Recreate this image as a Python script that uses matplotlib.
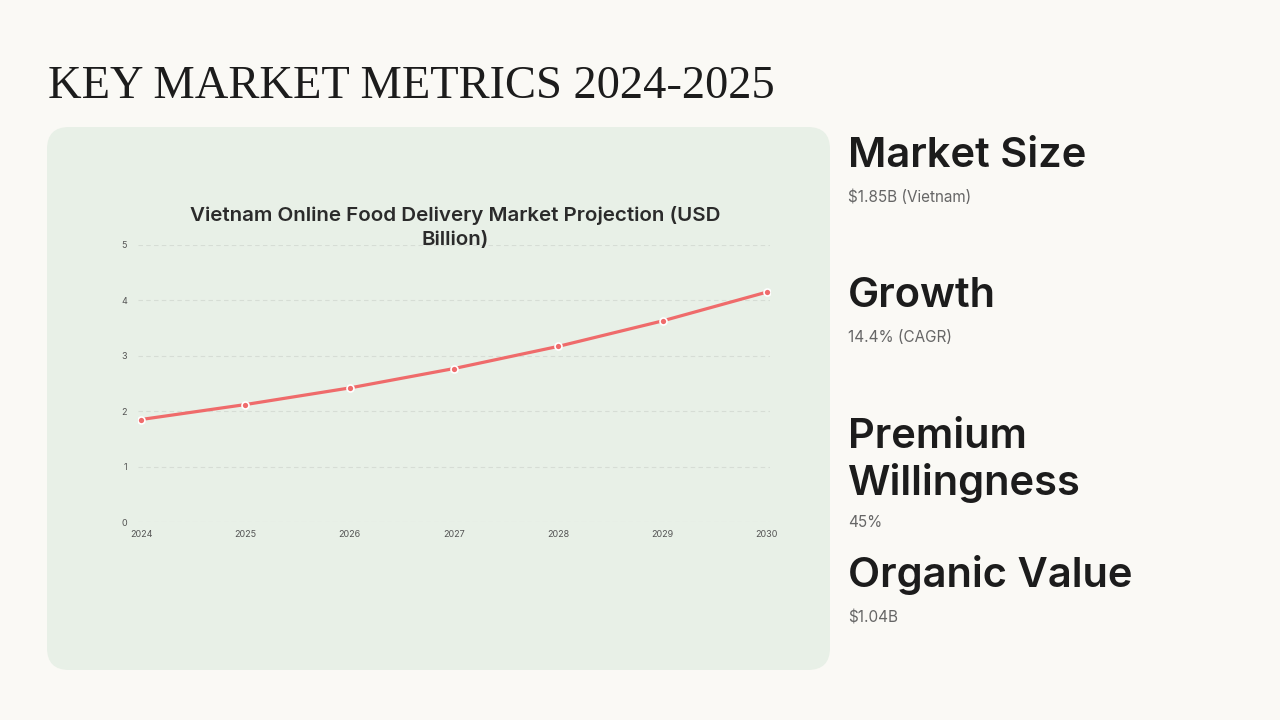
import matplotlib
matplotlib.use("Agg")
import matplotlib.pyplot as plt
from matplotlib.patches import FancyBboxPatch
from matplotlib.transforms import IdentityTransform

# ---- data ----
years = [2024, 2025, 2026, 2027, 2028, 2029, 2030]
market_usd_bn = [1.85, 2.12, 2.42, 2.77, 3.17, 3.63, 4.15]
y_ticks = [0, 1, 2, 3, 4, 5]
page_title = "KEY MARKET METRICS 2024-2025"
chart_title = "Vietnam Online Food Delivery Market Projection (USD\nBillion)"
metric_heads = ["Market Size", "Growth", "Premium\nWillingness", "Organic Value"]
metric_values = ["$1.85B (Vietnam)", "14.4% (CAGR)", "45%", "$1.04B"]

W, H = 1280, 720
BG = "#faf9f5"
PANEL = "#e8f0e7"
LINE = "#ef6b6b"

fig = plt.figure(figsize=(W / 100, H / 100), dpi=100, facecolor=BG)

def fy(px):
    return 1 - px / H

# panel
panel = FancyBboxPatch((47, H - 670), 830 - 47, 670 - 127,
                       boxstyle="round,pad=0,rounding_size=22",
                       transform=IdentityTransform(), facecolor=PANEL,
                       edgecolor="none", zorder=0)
fig.add_artist(panel)

# page title
fig.text(48 / W, fy(98), page_title, family=["Liberation Serif", "DejaVu Serif"],
         fontsize=33.5, color="#1c1c1c", va="baseline", ha="left")

# chart axes
ax = fig.add_axes([138 / W, (H - 522) / H, 632 / W, 277 / H])
ax.set_facecolor("none")
ax.plot(years, market_usd_bn, color=LINE, lw=2.3, zorder=3,
        marker="o", markersize=5, markerfacecolor=LINE,
        markeredgecolor="white", markeredgewidth=1.2)
ax.set_xlim(2023.97, 2030.03)
ax.set_ylim(0, 5)
ax.set_yticks(y_ticks)
ax.set_xticks(years)
ax.grid(axis="y", color="#d6ddd5", linestyle=(0, (4, 3)), linewidth=0.8)
for s in ax.spines.values():
    s.set_visible(False)
ax.tick_params(length=0, labelsize=6.5, labelcolor="#555555")
ax.tick_params(axis="y", pad=8)
ax.tick_params(axis="x", pad=6)
for lab in ax.get_xticklabels() + ax.get_yticklabels():
    lab.set_family(["Inter", "DejaVu Sans"])

fig.text(455 / W, fy(245), chart_title, family=["Inter", "DejaVu Sans"],
         fontsize=14.8, fontweight="semibold", color="#2b2b2b",
         ha="center", va="baseline", linespacing=1.4)

# right-side metrics
head_baselines = [167, 307, 495, 587]
value_baselines = [202, 342, 527, 623]
for head, val, hb, vb in zip(metric_heads, metric_values, head_baselines, value_baselines):
    fig.text(848 / W, fy(hb), head, family=["Inter", "DejaVu Sans"],
             fontsize=30, fontweight="semibold", color="#1c1c1c",
             ha="left", va="baseline", linespacing=1.22)
    fig.text(848 / W, fy(vb), val, family=["Inter", "DejaVu Sans"],
             fontsize=11, color="#666666", ha="left", va="baseline")

fig.savefig("out.png", dpi=100, facecolor=BG)
